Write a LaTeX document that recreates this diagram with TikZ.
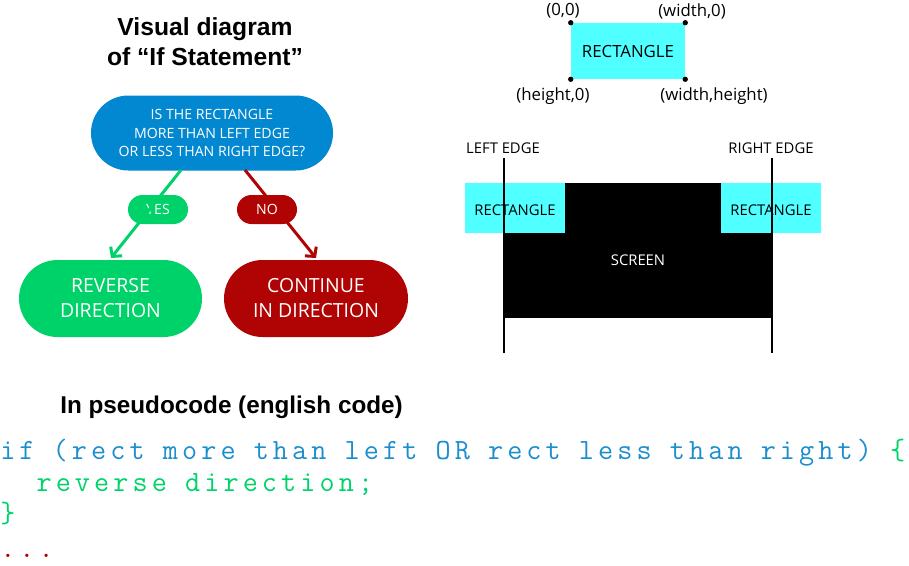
\documentclass[tikz,border=0pt]{standalone}
\usepackage{fontspec}
\setmainfont{Open Sans}
\newfontfamily\headfont{Liberation Sans}
\newfontfamily\codettfont{Latin Modern Mono}[LetterSpace=14.0]
\newcommand\mycodefont{\codettfont\fontsize{22}{26}\selectfont\spaceskip=13.62pt\relax}
\usetikzlibrary{arrows.meta}
\definecolor{pillblue}{RGB}{2,136,209}
\definecolor{pillgreen}{RGB}{0,210,106}
\definecolor{pillred}{RGB}{176,3,3}
\definecolor{rectcyan}{RGB}{80,255,255}
\definecolor{codeblue}{RGB}{28,142,206}
\definecolor{codegreen}{RGB}{0,210,106}
\definecolor{codered}{RGB}{176,0,0}
\begin{document}
\begin{tikzpicture}[x=0.75pt,y=-0.75pt,
  pill/.style={rectangle, rounded corners=#1, inner sep=0pt, text=white, align=center},
  conn/.style={line width=2.25pt, -{Straight Barb[length=5pt,width=11pt]}},
  head/.style={font=\headfont\bfseries\fontsize{18.5}{22.5}\selectfont, inner sep=0pt},
  lbl/.style={font=\fontsize{11.1}{13}\selectfont, inner sep=0pt},
  toplbl/.style={font=\fontsize{12.6}{14}\selectfont, inner sep=0pt},
  cyanbox/.style={fill=rectcyan, draw=none},
  edge/.style={line width=1.1pt, black},
  dot/.style={circle, fill=black, inner sep=0pt, minimum size=4pt},
  code/.style={anchor=base west, inner sep=0pt, font=\mycodefont}]
\useasboundingbox (0,0) rectangle (909,565);

% ---------- title
\node[head, align=center] (title) at (205,42) {Visual diagram\\of “If Statement”};

% ---------- flowchart
\node[pill=28pt, fill=pillblue, minimum width=181.5pt, minimum height=56.25pt,
      font=\fontsize{10.6}{13.9}\selectfont] (q) at (212,133)
      {IS THE RECTANGLE\\MORE THAN LEFT EDGE\\OR LESS THAN RIGHT EDGE?};

\coordinate (ys) at (181,170);
\coordinate (ye) at (111,258);
\coordinate (ns) at (245,170);
\coordinate (ne) at (316,258);

\node[pill=10.9pt, fill=pillgreen, minimum width=45pt, minimum height=21.75pt,
      font=\fontsize{10.6}{12}\selectfont] (yes) at (158,209.5) {YES};
\draw[conn, pillgreen] (ys) -- (ye);

\draw[conn, pillred] (ns) -- (ne);
\node[pill=10.9pt, fill=pillred, minimum width=45pt, minimum height=21.75pt,
      font=\fontsize{10.6}{12}\selectfont] (no) at (267,209.5) {NO};

\node[pill=28.9pt, fill=pillgreen, minimum width=137.25pt, minimum height=57.75pt,
      font=\fontsize{14.6}{18.75}\selectfont] (rev) at (110.5,298.5) {REVERSE\\DIRECTION};
\node[pill=28.9pt, fill=pillred, minimum width=138pt, minimum height=57.75pt,
      font=\fontsize{14.6}{18.75}\selectfont] (cont) at (316,298.5) {CONTINUE\\IN DIRECTION};

% ---------- rectangle coordinates
\node[cyanbox, minimum width=85.5pt, minimum height=42pt, inner sep=0pt,
      font=\fontsize{12.6}{14}\selectfont] (r) at (628,51) {RECTANGLE};
\node[dot] (d1) at (r.north west) {};
\node[dot] (d2) at (r.north east) {};
\node[dot] (d3) at (r.south west) {};
\node[dot] (d4) at (r.south east) {};
\node[toplbl] (l1) at (563,11) {(0,0)};
\node[toplbl] (l2) at (692,11) {(width,0)};
\node[toplbl] (l3) at (553,96) {(height,0)};
\node[toplbl] (l4) at (714,96) {(width,height)};

% ---------- screen
\fill[black] (503,183) rectangle (772,318);
\node[lbl, text=white] (scr) at (638,260) {SCREEN};
\fill[rectcyan] (465,183) rectangle (565,233);
\fill[rectcyan] (721,183) rectangle (821,233);
\node[lbl] (rl) at (515,210.5) {RECTANGLE};
\node[lbl] (rr) at (771,210.5) {RECTANGLE};
\coordinate (le1) at (504,158);
\coordinate (le2) at (504,353);
\coordinate (re1) at (772,158);
\coordinate (re2) at (772,353);
\draw[edge] (le1) -- (le2);
\draw[edge] (re1) -- (re2);
\node[lbl] (lel) at (503,148) {LEFT EDGE};
\node[lbl] (rel) at (771,148) {RIGHT EDGE};

% ---------- pseudocode
\node[head, anchor=west, font=\headfont\bfseries\fontsize{18.2}{22}\selectfont] (ph) at (60,407) {In pseudocode (english code)};
\node[code, text=codeblue] (c1) at (0,459) {if (rect more than left OR rect less than right) \textcolor{codegreen}{\{}};
\node[code, text=codegreen] (c2) at (36.3,491) {reverse direction;};
\node[code, text=codegreen] (c3) at (0,522) {\}};
\node[code, text=codered] (c4) at (0,557) {...};
\end{tikzpicture}
\end{document}
